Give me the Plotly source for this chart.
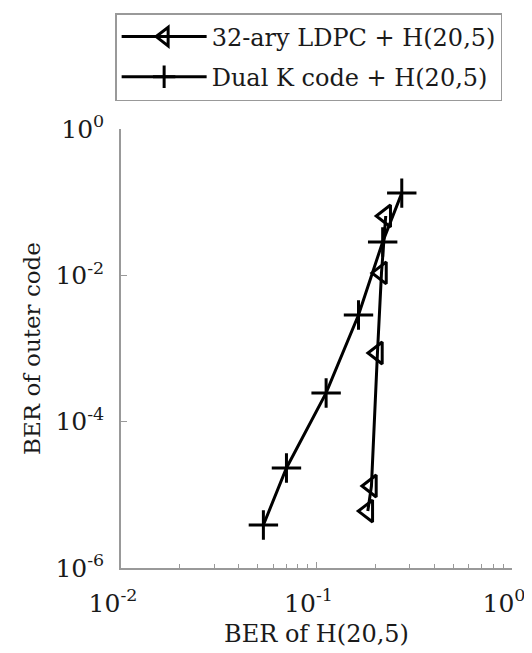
import plotly.graph_objects as go

# Data
ldpc_x = [0.226, 0.215, 0.205, 0.191, 0.183]
ldpc_y = [0.0647, 0.0108, 8.68e-4, 1.32e-5, 6.0e-6]
dualk_x = [0.273, 0.218, 0.164, 0.112, 0.0702, 0.0535]
dualk_y = [0.133, 0.0286, 2.87e-3, 2.47e-4, 2.33e-5, 3.87e-6]

x_tickvals = [0.01, 0.1, 1]
x_ticktext = ["10<sup>-2</sup>", "10<sup>-1</sup>", "10<sup>0</sup>"]
y_tickvals = [1e-6, 1e-4, 1e-2, 1]
y_ticktext = ["10<sup>-6</sup>", "10<sup>-4</sup>", "10<sup>-2</sup>", "10<sup>0</sup>"]
x_minor = [k * 0.01 for k in range(2, 10)] + [k * 0.1 for k in range(2, 10)]

FONT = "DejaVu Serif"
TXT = "#1a1a1a"

fig = go.Figure()
fig.add_trace(go.Scatter(
    x=ldpc_x, y=ldpc_y, mode="lines+markers",
    name="32-ary LDPC + H(20,5)", legendgroup="a",
    line=dict(color="black", width=3),
    marker=dict(symbol="triangle-left-open", size=19, color="black",
                line=dict(width=3, color="black")),
))
fig.add_trace(go.Scatter(
    x=dualk_x, y=dualk_y, mode="lines+markers",
    name="Dual K code + H(20,5)", legendgroup="b",
    line=dict(color="black", width=3),
    marker=dict(symbol="cross-thin-open", size=21, color="black",
                line=dict(width=3, color="black")),
))

fig.update_layout(
    width=532, height=653,
    margin=dict(l=113, r=28, t=121, b=93, autoexpand=False),
    paper_bgcolor="white", plot_bgcolor="white",
    font=dict(family=FONT, size=24, color=TXT),
    showlegend=True,
    legend=dict(
        x=-0.015, y=1.2642, xanchor="left", yanchor="top",
        bordercolor="#999", borderwidth=1.5, bgcolor="white",
        font=dict(family=FONT, size=24, color=TXT),
        tracegroupgap=6, itemwidth=85,
    ),
)
fig.update_xaxes(
    type="log", range=[-2, 0],
    tickmode="array", tickvals=x_tickvals, ticktext=x_ticktext,
    ticks="inside", ticklen=6, tickcolor="#999", tickwidth=1,
    minor=dict(tickmode="array", tickvals=x_minor, ticks="inside",
               ticklen=4, tickcolor="#999", showgrid=False),
    showline=True, linecolor="#999", linewidth=1.5,
    showgrid=False, zeroline=False, mirror=False,
    ticklabelstandoff=12, ticklabelshift=-8,
    title=dict(text="BER of H(20,5)", standoff=8,
               font=dict(family=FONT, size=24, color=TXT)),
    tickfont=dict(family=FONT, size=25, color=TXT),
)
fig.update_yaxes(
    type="log", range=[-6, 0],
    tickmode="array", tickvals=y_tickvals, ticktext=y_ticktext,
    ticks="inside", ticklen=6, tickcolor="#999", tickwidth=1,
    showline=True, linecolor="#999", linewidth=1.5,
    showgrid=False, zeroline=False, mirror=False,
    ticklabelstandoff=10,
    title=dict(text="BER of outer code", standoff=8,
               font=dict(family=FONT, size=23, color=TXT)),
    tickfont=dict(family=FONT, size=25, color=TXT),
)

fig.write_html("out.html")
